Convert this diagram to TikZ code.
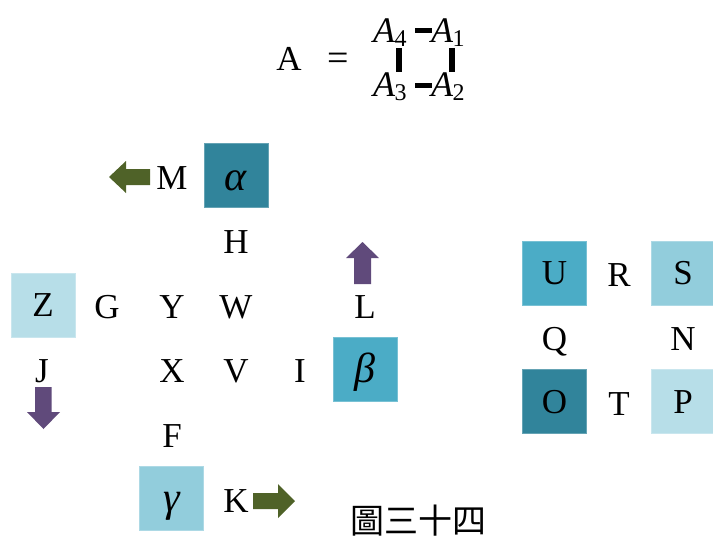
\documentclass[tikz,border=0pt]{standalone}
\usepackage{fontspec}
\setmainfont{Liberation Serif}
\newfontfamily\cjk{Noto Sans CJK TC}
\definecolor{dk}{HTML}{31849B}
\definecolor{md}{HTML}{4BACC6}
\definecolor{lt}{HTML}{92CDDC}
\definecolor{pl}{HTML}{B7DEE8}
\definecolor{grn}{HTML}{4F6228}
\definecolor{pur}{HTML}{604A7B}
\begin{document}
\begin{tikzpicture}[x=1pt,y=-1pt,
  lbl/.style={font=\fontsize{35}{40}\selectfont, anchor=base, inner sep=0pt},
  box/.style={minimum size=64pt, inner sep=0pt, font=\fontsize{35}{40}\selectfont,
     text height=23pt, text depth=0pt, draw=#1!75!white, line width=0.6pt, fill=#1},
  gbox/.style={box=#1, font=\fontsize{42}{46}\selectfont\itshape, text height=27pt},
  mth/.style={font=\fontsize{36}{40}\selectfont\itshape, anchor=base west, inner sep=0pt},
  sub/.style={font=\fontsize{24}{26}\selectfont, anchor=base west, inner sep=0pt},
  bar/.style={fill=black}]
\useasboundingbox (0,0) rectangle (713,539);

% formula
\node[lbl] (bigA) at (289,70) {A};
\node[lbl, font=\fontsize{38}{40}\selectfont] (eq) at (338,70) {=};
\node[mth] (a4) at (373,42) {A};
\node[sub] (s4) at (a4.base east) [xshift=-1pt, yshift=-4pt] {4};
\node[mth] (a1) at (431,42) {A};
\node[sub] (s1) at (a1.base east) [xshift=-1pt, yshift=-4pt] {1};
\node[mth] (a3) at (373,96) {A};
\node[sub] (s3) at (a3.base east) [xshift=-1pt, yshift=-4pt] {3};
\node[mth] (a2) at (431,96) {A};
\node[sub] (s2) at (a2.base east) [xshift=-1pt, yshift=-4pt] {2};
\fill[bar] (415,28) rectangle (432,33);
\fill[bar] (415,83) rectangle (432,88);
\fill[bar] (396,48) rectangle (402,72);
\fill[bar] (449,48) rectangle (455,72);

% left group boxes
\node[gbox=dk, text height=29pt] (alpha) at (236,175.5) {α};
\node[box=pl] (Z) at (43,305) {Z};
\node[gbox=md] (beta) at (365,369) {β};
\node[gbox=lt] (gamma) at (171.5,498) {γ};

% letters
\node[lbl] (M) at (172,189) {M};
\node[lbl] (H) at (236,253) {H};
\node[lbl] (G) at (107,318) {G};
\node[lbl] (Y) at (172,318) {Y};
\node[lbl] (W) at (236,318) {W};
\node[lbl] (L) at (365,318) {L};
\node[lbl] (J) at (42,382) {J};
\node[lbl] (X) at (172,382) {X};
\node[lbl] (V) at (236,382) {V};
\node[lbl] (I) at (300,382) {I};
\node[lbl] (F) at (172,447) {F};
\node[lbl] (K) at (236,512) {K};

% block arrows
\fill[grn] (109,177) -- (126,161) -- (126,169) -- (150,169) -- (150,185) -- (126,185) -- (126,193) -- cycle;
\fill[pur] (362.5,242) -- (379,258) -- (371,258) -- (371,284) -- (354,284) -- (354,258) -- (346,258) -- cycle;
\fill[pur] (43.5,429) -- (60,412) -- (51.5,412) -- (51.5,387) -- (35,387) -- (35,412) -- (27,412) -- cycle;
\fill[grn] (295,501) -- (278,484) -- (278,493) -- (253,493) -- (253,509) -- (278,509) -- (278,518) -- cycle;

% right group
\node[box=md] (U) at (554.5,273) {U};
\node[box=lt] (S) at (683,273) {S};
\node[box=dk] (O) at (554.5,401.5) {O};
\node[box=pl] (P) at (683,401.5) {P};
\node[lbl] (R) at (619,286) {R};
\node[lbl] (Q) at (554.5,350) {Q};
\node[lbl] (N) at (683,350) {N};
\node[lbl] (T) at (619,415) {T};

% caption
\node[font=\cjk\fontsize{34}{37}\selectfont, inner sep=0pt] (cap) at (418,521) {圖三十四};
\end{tikzpicture}
\end{document}
